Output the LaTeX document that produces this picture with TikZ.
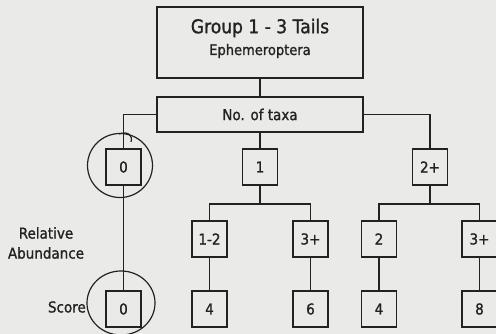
\documentclass[tikz,border=0pt]{standalone}
\usepackage{fontspec}
\setmainfont[FakeStretch=0.9,FakeBold=1.2]{DejaVu Sans}
\definecolor{bg}{RGB}{234,234,232}
\definecolor{ink}{RGB}{34,34,34}
\begin{document}
\begin{tikzpicture}[x=1pt,y=-1pt,
  box/.style={draw=ink, line width=1.9pt, minimum width=35pt, minimum height=36pt,
    inner sep=0pt, text=ink, font=\fontsize{15}{18}\selectfont},
  wire/.style={draw=ink, line width=1.9pt},
  ring/.style={draw=ink, line width=1.2pt},
  lab/.style={text=ink, inner sep=0pt, font=\fontsize{15}{17}\selectfont}]
\fill[bg] (0,0) rectangle (496,334);
\useasboundingbox (0,0) rectangle (496,334);

\node[box, minimum width=206pt, minimum height=71pt] (top) at (260,42.5) {};
\node[lab, font=\fontsize{19}{21}\selectfont] (t1) at (260,28) {Group 1 - 3 Tails};
\node[lab, font=\fontsize{14.5}{16}\selectfont] (t2) at (260,51) {Ephemeroptera};
\node[box, minimum width=206pt, minimum height=35pt] (taxa) at (260,114.5) {No. of taxa};

\node[box] (n0) at (123.5,167) {0};
\node[box] (n1) at (260,167) {1};
\node[box] (n2) at (430,167) {2+};

\node[box] (a12) at (209.5,239) {1-2};
\node[box] (a3) at (310.5,239) {3+};
\node[box] (b2) at (379,239) {2};
\node[box] (b3) at (479.5,239) {3+};

\node[box] (s0) at (123.5,309) {0};
\node[box] (s1) at (209.5,309) {4};
\node[box] (s2) at (310.5,309) {6};
\node[box] (s3) at (379,309) {4};
\node[box] (s4) at (479.5,309) {8};

\node[lab] (rel) at (46,233) {Relative};
\node[lab] (abu) at (46,253) {Abundance};
\node[lab, anchor=east] (sc) at (86,307) {Score};

\draw[wire] (top.south) -- (taxa.north);
\draw[wire] (taxa.west) -| (n0.north);
\draw[wire] (taxa.east) -| (n2.north);
\draw[wire] (taxa.south) -- (n1.north);
\draw[wire] (n0.south) -- (s0.north);
\draw[wire] (n1.south) -- ++(0,18) coordinate (bus1);
\draw[wire] (a12.north) |- (bus1) -| (a3.north);
\draw[wire] (n2.south) -- ++(0,18) coordinate (bus2);
\draw[wire] (b2.north) |- (bus2) -| (b3.north);
\draw[wire] (a12.south) -- (s1.north);
\draw[wire] (a3.south) -- (s2.north);
\draw[wire] (b2.south) -- (s3.north);
\draw[wire] (b3.south) -- (s4.north);

\draw[ring] (120,165.5) ellipse [x radius=32.5pt, y radius=32pt];
\draw[ring] (119,134) .. controls (128,131) and (133,135) .. (131,142);
\draw[ring] (121,303) ellipse [x radius=34pt, y radius=32pt];
\end{tikzpicture}
\end{document}
